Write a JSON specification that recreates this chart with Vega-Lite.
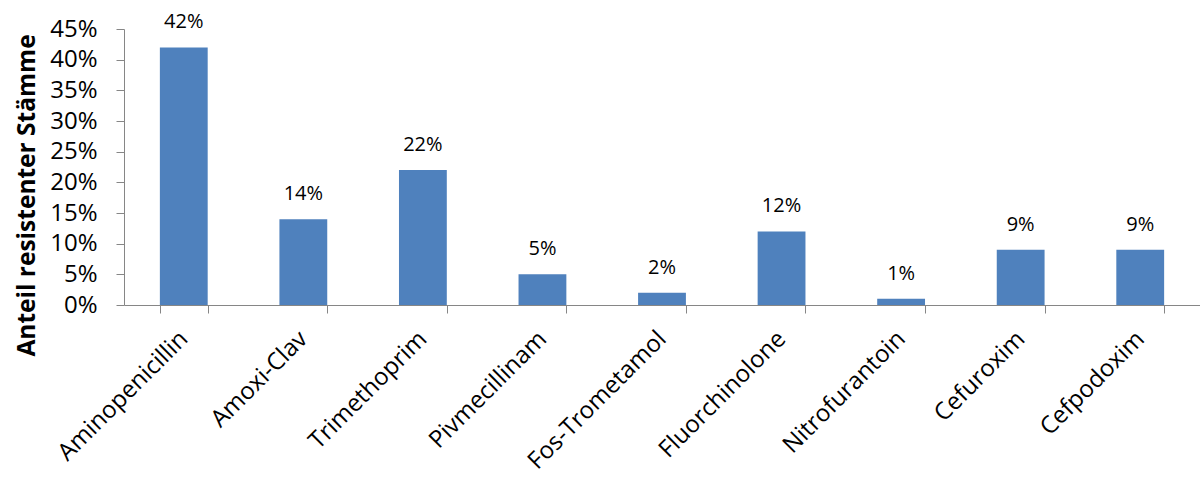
{
  "$schema": "https://vega.github.io/schema/vega-lite/v6.json",
  "autosize": "none",
  "padding": {"left": 124, "top": 29, "right": 0, "bottom": 174},
  "width": 1076,
  "height": 276,
  "background": "white",
  "config": {"view": {"stroke": null}, "font": "Open Sans"},
  "data": {
    "values": [
      {"antibiotikum": "Aminopenicillin", "anteil": 0.42},
      {"antibiotikum": "Amoxi-Clav", "anteil": 0.14},
      {"antibiotikum": "Trimethoprim", "anteil": 0.22},
      {"antibiotikum": "Pivmecillinam", "anteil": 0.05},
      {"antibiotikum": "Fos-Trometamol", "anteil": 0.02},
      {"antibiotikum": "Fluorchinolone", "anteil": 0.12},
      {"antibiotikum": "Nitrofurantoin", "anteil": 0.01},
      {"antibiotikum": "Cefuroxim", "anteil": 0.09},
      {"antibiotikum": "Cefpodoxim", "anteil": 0.09}
    ]
  },
  "encoding": {
    "x": {
      "field": "antibiotikum",
      "type": "nominal",
      "sort": null,
      "scale": {"paddingInner": 0.6, "paddingOuter": 0.3},
      "axis": {
        "title": null,
        "domainColor": "#868686",
        "tickColor": "#868686",
        "tickBand": "extent",
        "tickSize": 8,
        "labelAngle": -45,
        "labelAlign": "right",
        "labelBaseline": "middle",
        "labelPadding": 22,
        "labelFontSize": 24,
        "labelLimit": 400,
        "labelColor": "#000000",
        "labelFont": "Open Sans"
      }
    },
    "y": {
      "field": "anteil",
      "type": "quantitative",
      "scale": {"domain": [0, 0.45], "nice": false},
      "axis": {
        "title": "Anteil resistenter Stämme",
        "titleFont": "Open Sans",
        "titleFontSize": 24.5,
        "titleFontWeight": "bold",
        "titleColor": "#000000",
        "titleAngle": -90,
        "titleAlign": "center",
        "titleBaseline": "middle",
        "titleX": -97,
        "titleY": 166,
        "values": [0, 0.05, 0.1, 0.15, 0.2, 0.25, 0.3, 0.35, 0.4, 0.45],
        "format": ".0%",
        "grid": false,
        "domainColor": "#868686",
        "tickColor": "#868686",
        "tickSize": 8,
        "labelPadding": 19,
        "labelFontSize": 24,
        "labelColor": "#000000",
        "labelFont": "Open Sans"
      }
    }
  },
  "layer": [
    {"mark": {"type": "bar", "color": "#4F81BD"}},
    {
      "mark": {"type": "text", "baseline": "alphabetic", "dy": -19, "fontSize": 20, "font": "Open Sans", "color": "#000000"},
      "encoding": {"text": {"field": "anteil", "type": "quantitative", "format": ".0%"}}
    }
  ]
}
